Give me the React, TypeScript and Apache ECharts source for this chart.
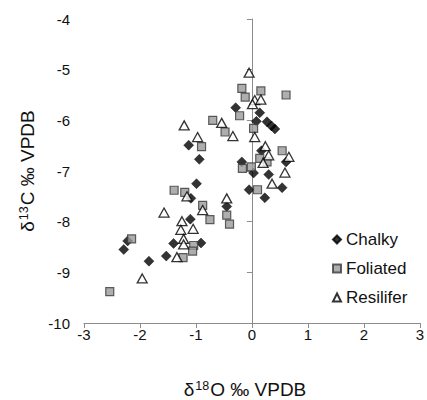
import React, { useEffect, useRef } from "react";
import * as echarts from "echarts";

const seriesNames = ["Chalky", "Foliated", "Resilifer"];

const chalky: [number, number][] = [
  [-0.29, -5.75], [0.14, -5.85], [0.08, -6.02], [0.27, -6.03], [0.35, -6.11], [0.41, -6.17],
  [-1.13, -6.49], [-0.94, -6.77], [-0.99, -7.25], [-1.09, -7.54], [-1.1, -7.95], [-1.4, -8.43],
  [-0.91, -8.42], [-1.53, -8.68], [-1.84, -8.78], [-2.29, -8.55], [-2.22, -8.38], [-0.45, -7.7],
  [-0.18, -6.82], [0.03, -7.04], [-0.05, -7.37], [0.3, -7.07], [0.54, -7.33], [0.23, -7.53],
  [0.61, -6.82], [0.17, -6.6],
];

const foliated: [number, number][] = [
  [-0.18, -5.37], [-0.12, -5.54], [0.16, -5.42], [0.61, -5.5], [-0.22, -5.91], [-0.7, -6.0],
  [-0.48, -6.23], [0.03, -6.16], [0.54, -6.6], [0.14, -6.75], [0.27, -6.82], [-0.17, -6.95],
  [-0.01, -6.92], [0.1, -7.37], [-0.9, -6.52], [-1.39, -7.38], [-1.2, -7.42], [-0.88, -7.68],
  [-0.75, -7.96], [-0.45, -7.87], [-0.4, -8.05], [-1.04, -8.47], [-1.06, -8.58], [-1.23, -8.71],
  [-2.15, -8.34], [-2.54, -9.38],
];

const resilifer: [number, number][] = [
  [-0.05, -5.06], [0.05, -5.6], [0.01, -5.68], [0.16, -5.59], [-0.54, -6.05], [-0.34, -6.31],
  [0.05, -6.33], [0.24, -6.51], [0.3, -6.69], [0.2, -6.84], [0.66, -6.72], [0.59, -7.03],
  [0.36, -7.25], [-0.45, -7.54], [-0.88, -7.77], [-1.21, -6.1], [-0.97, -6.33], [-1.16, -7.5],
  [-1.57, -7.82], [-1.25, -7.99], [-1.27, -8.16], [-1.05, -8.14], [-1.22, -8.34], [-1.22, -8.45],
  [-1.34, -8.7], [-1.96, -9.12],
];

const xRange = [-3, 3];
const yRange = [-10, -4];

const FONT = "Liberation Sans";

const titleRich = {
  a: { fontSize: 19, fontFamily: FONT, color: "#111", fill: "#111", lineHeight: 20, verticalAlign: "bottom" },
  s: { fontSize: 12.5, fontFamily: FONT, color: "#111", fill: "#111", lineHeight: 20, verticalAlign: "top", padding: [0, 1, 0, 1] },
};

export default function App() {
  const ref = useRef<HTMLDivElement>(null);
  useEffect(() => {
    if (!ref.current) return;
    const chart = echarts.init(ref.current, null, { renderer: "svg" });
    const axisCommon = {
      axisLine: { show: true, lineStyle: { color: "#8c8c8c", width: 1 } },
      axisTick: { show: true, inside: false, length: 5, lineStyle: { color: "#8c8c8c" } },
      splitLine: { show: false },
    };
    chart.setOption({
      animation: false,
      backgroundColor: "#ffffff",
      grid: { left: 84, right: 5, top: 19, bottom: 77, containLabel: false },
      xAxis: {
        type: "value",
        min: xRange[0],
        max: xRange[1],
        interval: 1,
        ...axisCommon,
        axisLabel: { color: "#111", fontSize: 15, fontFamily: FONT, margin: 4 },
      },
      yAxis: {
        type: "value",
        min: yRange[0],
        max: yRange[1],
        interval: 1,
        ...axisCommon,
        axisLabel: { color: "#111", fontSize: 15, fontFamily: FONT, margin: 14 },
        name: "{a|δ}{s|13}{a|C ‰ VPDB}",
        nameLocation: "middle",
        nameRotate: 90,
        nameGap: 37,
        nameTextStyle: { rich: titleRich },
      },
      legend: {
        orient: "vertical",
        left: 332,
        top: 231,
        padding: 0,
        itemWidth: 8,
        itemHeight: 8,
        itemGap: 12,
        textStyle: { fontSize: 17, fontFamily: FONT, color: "#111" },
        data: seriesNames,
      },
      graphic: [
        {
          type: "text",
          x: 245,
          y: 389,
          style: {
            text: "{a|δ}{s|18}{a|O ‰ VPDB}",
            align: "center",
            verticalAlign: "middle",
            rich: titleRich,
          },
        },
      ],
      series: [
        {
          name: seriesNames[0],
          type: "scatter",
          symbol: "diamond",
          symbolSize: 10,
          data: chalky,
          itemStyle: { color: "#000000", borderColor: "#000000", borderWidth: 0.5 },
        },
        {
          name: seriesNames[1],
          type: "scatter",
          symbol: "rect",
          symbolSize: 8,
          data: foliated,
          itemStyle: { color: "#9a9a9a", borderColor: "#3a3a3a", borderWidth: 1.2 },
        },
        {
          name: seriesNames[2],
          type: "scatter",
          symbol: "triangle",
          symbolSize: [10, 9],
          data: resilifer,
          itemStyle: { color: "#ffffff", borderColor: "#000000", borderWidth: 1.3 },
        },
      ],
    });
    return () => chart.dispose();
  }, []);
  return <div ref={ref} style={{ width: 427, height: 400, position: "absolute", left: 0, top: 0 }} />;
}
